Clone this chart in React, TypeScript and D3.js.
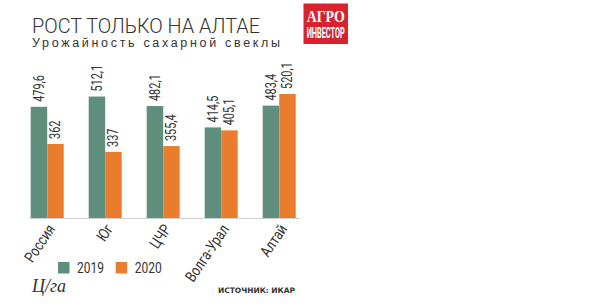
import React from "react";
import * as d3 from "d3";

const categories = ["Россия", "Юг", "ЦЧР", "Волга-Урал", "Алтай"];
const series2019 = [479.6, 512.1, 482.1, 414.5, 483.4];
const series2020 = [362, 337, 355.4, 405.1, 520.1];
const labels2019 = ["479,6", "512,1", "482,1", "414,5", "483,4"];
const labels2020 = ["362", "337", "355,4", "405,1", "520,1"];
const seriesNames = ["2019", "2020"];

const GREEN = "#5f8f7c";
const ORANGE = "#ea7c2e";
const SANS = "Roboto, 'Liberation Sans', sans-serif";

export default function App() {
  const W = 600, H = 307;
  const x0 = d3.scaleBand<string>().domain(categories).range([30.7, 295.7]).paddingInner(0.431).paddingOuter(0);
  const x1 = d3.scaleBand<string>().domain(seriesNames).range([0, x0.bandwidth()]).padding(0);
  const y = d3.scaleLinear().domain([128, 520.1]).range([218, 94]);
  const colors = [GREEN, ORANGE];
  const data = [series2019, series2020];
  const labs = [labels2019, labels2020];

  return (
    <svg width={W} height={H} style={{ position: "absolute", left: 0, top: 0, background: "#fff" }}>
      <rect x={0} y={0} width={W} height={H} fill="#fff" />
      <text x={32} y={32.5} fontFamily={SANS} fontWeight={300} fontSize={20} fill="#333" textLength={228} lengthAdjust="spacingAndGlyphs">
        РОСТ ТОЛЬКО НА АЛТАЕ
      </text>
      <text x={32} y={47} fontFamily="'Liberation Sans', Arial, sans-serif" fontSize={12.5} fill="#333" textLength={248} lengthAdjust="spacing">
        Урожайность сахарной свеклы
      </text>
      {/* logo */}
      <g>
        <rect x={303.5} y={3.5} width={44.5} height={40.5} fill="#d8232f" />
        <text x={325.7} y={22} textAnchor="middle" fontFamily="'Liberation Serif', serif" fontWeight="bold" fontSize={17} fill="#fff" textLength={38} lengthAdjust="spacingAndGlyphs">
          АГРО
        </text>
        <text x={325.7} y={38} textAnchor="middle" fontFamily={SANS} fontWeight="bold" fontSize={14} fill="#fff" textLength={38} lengthAdjust="spacingAndGlyphs">
          ИНВЕСТОР
        </text>
      </g>
      {/* bars */}
      {categories.map((c, i) => (
        <g key={c} transform={`translate(${x0(c)},0)`}>
          {data.map((s, j) => {
            const bx = x1(seriesNames[j])!;
            const top = y(s[i]);
            const cx = bx + x1.bandwidth() / 2;
            return (
              <g key={j}>
                <rect x={bx} y={top} width={x1.bandwidth()} height={y(128) - top} fill={colors[j]} />
                <text
                  transform={`translate(${cx + 5},${top - 5}) rotate(-90) scale(0.78,1)`}
                  fontFamily={SANS}
                  fontSize={14}
                  fill="#333"
                >
                  {labs[j][i]}
                </text>
              </g>
            );
          })}
        </g>
      ))}
      <line x1={29} x2={300} y1={218.5} y2={218.5} stroke="#d0d0d0" strokeWidth={1} />
      {/* category labels */}
      {categories.map((c) => (
        <text
          key={c}
          transform={`translate(${x0(c)! + x0.bandwidth() / 2 + 8.5},${229}) rotate(-56) scale(0.8,1)`}
          textAnchor="end"
          fontFamily={SANS}
          fontSize={15.5}
          fill="#333"
        >
          {c}
        </text>
      ))}
      {/* legend */}
      {seriesNames.map((n, j) => (
        <g key={n} transform={`translate(${58 + j * 57.7},262)`}>
          <rect x={0} y={0} width={11.5} height={11.5} fill={colors[j]} />
          <text transform="translate(19,11) scale(0.8,1)" fontFamily={SANS} fontSize={15} fill="#333">
            {n}
          </text>
        </g>
      ))}
      <text x={32} y={292} fontFamily="'Liberation Serif', 'DejaVu Serif', serif" fontStyle="italic" fontSize={18} fill="#333">
        Ц/га
      </text>
      <text x={218} y={293} fontFamily="'DejaVu Sans', sans-serif" fontWeight="bold" fontSize={7.5} fill="#333" textLength={77} lengthAdjust="spacing">
        ИСТОЧНИК: ИКАР
      </text>
    </svg>
  );
}
